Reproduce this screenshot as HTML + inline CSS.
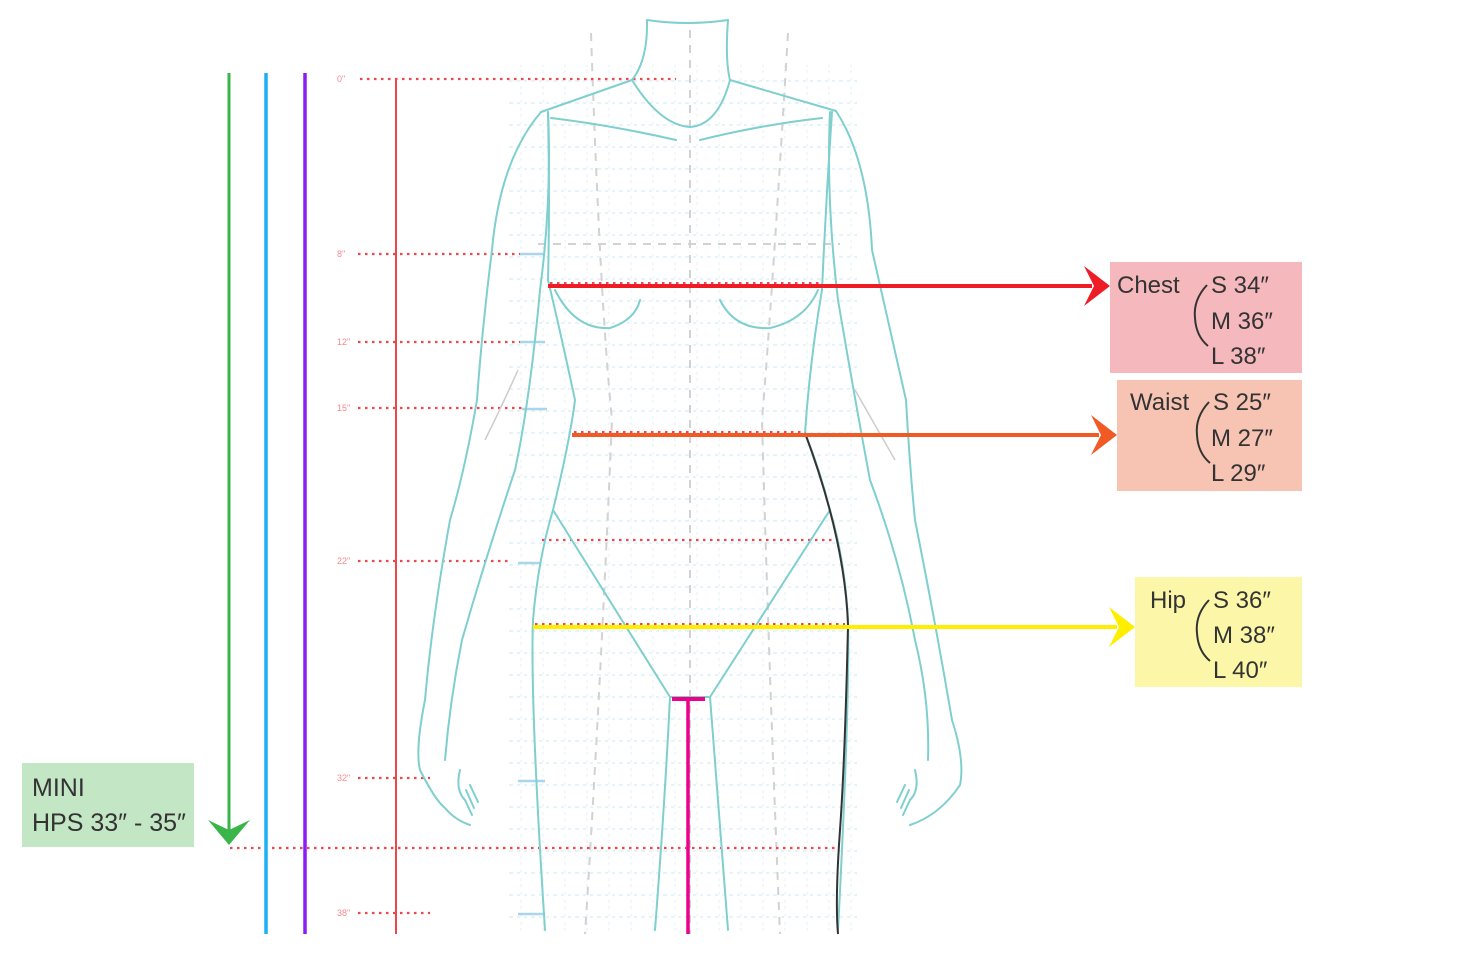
<!DOCTYPE html>
<html><head><meta charset="utf-8"><style>
html,body{margin:0;padding:0;background:#fff;width:1480px;height:964px;overflow:hidden}
svg{display:block}
text{font-family:"Liberation Sans",sans-serif}
</style></head><body>
<svg width="1480" height="964" viewBox="0 0 1480 964" xmlns="http://www.w3.org/2000/svg">
<defs>
<pattern id="g" x="510" y="70" width="22" height="22" patternUnits="userSpaceOnUse">
<line x1="0" y1="11" x2="22" y2="11" stroke="#d6ecf5" stroke-width="1.2" stroke-dasharray="3 4"/>
<line x1="11" y1="0" x2="11" y2="22" stroke="#e2f0f6" stroke-width="1" stroke-dasharray="3 5"/>
</pattern>
</defs>
<rect x="505" y="65" width="355" height="870" fill="url(#g)"/>
<g stroke="#d2d2d2" stroke-width="2" stroke-dasharray="8 7" fill="none">
<line x1="690" y1="30" x2="690" y2="934"/>
<path d="M591 33 Q600 300 612 420 Q600 700 585 934"/>
<path d="M788 33 Q772 300 762 420 Q770 700 780 934"/>
<line x1="538" y1="244" x2="840" y2="244"/>
</g>
<g stroke="#f0454b" stroke-width="2.2" stroke-dasharray="2.5 4.5" fill="none">
<line x1="360" y1="79" x2="676" y2="79"/>
<line x1="358" y1="254" x2="520" y2="254"/>
<line x1="358" y1="342" x2="520" y2="342"/>
<line x1="358" y1="408" x2="522" y2="408"/>
<line x1="358" y1="561" x2="510" y2="561"/>
<line x1="358" y1="778" x2="430" y2="778"/>
<line x1="358" y1="913" x2="430" y2="913"/>
<line x1="230" y1="848" x2="836" y2="848"/>
<line x1="542" y1="540" x2="832" y2="540"/>
</g>
<g fill="#f28a8e" font-size="9"><text x="337" y="82">0"</text><text x="337" y="257">8"</text><text x="337" y="345">12"</text><text x="337" y="411">15"</text><text x="337" y="564">22"</text><text x="337" y="781">32"</text><text x="337" y="916">38"</text></g>
<g stroke="#a9d6ea" stroke-width="2.5"><line x1="520" y1="254" x2="545" y2="254"/><line x1="520" y1="342" x2="545" y2="342"/><line x1="522" y1="409" x2="547" y2="409"/><line x1="518" y1="563" x2="540" y2="563"/><line x1="518" y1="781" x2="545" y2="781"/><line x1="518" y1="914" x2="545" y2="914"/></g>
<line x1="396" y1="78" x2="396" y2="934" stroke="#f0454b" stroke-width="2"/>
<g stroke="#7fcfcf" stroke-width="2" fill="none" stroke-linejoin="round" stroke-linecap="round">
<path d="M647 20 Q687 26 728 20"/>
<path d="M647 20 Q648 60 632 80 Q660 125 690 127 Q718 125 730 80 Q725 60 728 20"/>
<path d="M632 80 L541 112"/><path d="M730 80 L836 111"/>
<path d="M551 118 Q610 125 676 140"/><path d="M822 118 Q760 125 700 140"/>
<path d="M541 112 Q500 160 492 250 Q482 330 477 400 Q465 470 450 520 Q432 620 425 700 Q415 750 420 770 Q435 800 445 808 Q455 820 470 825"/>
<path d="M548 112 Q552 200 540 290 Q530 400 515 470 Q485 560 462 640 Q450 700 445 760"/>
<path d="M836 111 Q868 160 872 250 Q890 330 906 400 Q910 470 915 520 Q935 620 952 720 Q965 760 960 785 Q940 815 910 825"/>
<path d="M830 112 Q826 200 838 300 Q855 400 870 480 Q900 560 915 640 Q930 700 928 760"/>
<path d="M548 112 Q550 200 548 280 Q560 330 575 400 Q570 440 553 510 Q538 560 533 620 Q530 700 545 930"/>
<path d="M832 112 Q826 200 822 290 Q810 360 805 433 Q820 470 830 510 Q845 560 848 620 Q850 700 838 930"/>
<path d="M553 510 L670 697 L710 697 L830 510"/>
<path d="M670 697 Q665 800 655 930"/><path d="M710 697 Q718 800 728 930"/>
<path d="M555 290 Q575 330 610 328 Q635 320 640 300"/>
<path d="M720 300 Q735 330 770 328 Q805 320 818 290"/>
<path d="M460 770 Q455 790 465 800 L472 815 M466 790 L474 808 M470 785 L478 802"/>
<path d="M915 770 Q920 790 910 800 L903 815 M909 790 L901 808 M905 785 L897 802"/>
</g>
<path d="M518 370 Q500 410 485 440" stroke="#ccc" stroke-width="1.5" fill="none"/>
<path d="M855 390 Q875 425 895 460" stroke="#ccc" stroke-width="1.5" fill="none"/>
<path d="M805 433 Q845 540 848 625 Q845 760 840 830 Q835 900 838 934" stroke="#333" stroke-width="2" fill="none"/>
<line x1="548" y1="286" x2="1092" y2="286" stroke="#ee1c25" stroke-width="4"/>
<path d="M1084 266 L1110 286 L1084 306 L1094 286 Z" fill="#ee1c25"/>
<line x1="572" y1="435" x2="1099" y2="435" stroke="#f15a24" stroke-width="4"/>
<path d="M1091 415 L1117 435 L1091 455 L1101 435 Z" fill="#f15a24"/>
<line x1="533" y1="627" x2="1117" y2="627" stroke="#ffee00" stroke-width="4"/>
<path d="M1109 607 L1135 627 L1109 647 L1119 627 Z" fill="#ffee00"/>
<g stroke="#f0454b" stroke-width="2" stroke-dasharray="2.5 4.5"><line x1="550" y1="283" x2="820" y2="283"/><line x1="574" y1="432" x2="805" y2="432"/><line x1="535" y1="624" x2="845" y2="624"/></g>
<line x1="688" y1="698" x2="688" y2="934" stroke="#ec008c" stroke-width="3.5"/>
<line x1="672" y1="699" x2="705" y2="699" stroke="#ec008c" stroke-width="4"/>
<line x1="229" y1="73" x2="229" y2="832" stroke="#39b54a" stroke-width="3"/>
<path d="M208 820 L229 845 L250 820 L229 830 Z" fill="#39b54a"/>
<line x1="266" y1="73" x2="266" y2="934" stroke="#1cb0f6" stroke-width="3.5"/>
<line x1="305" y1="73" x2="305" y2="934" stroke="#8b1cf6" stroke-width="3.5"/>
<rect x="22" y="763" width="172" height="84" fill="#c3e6c4"/>
<text x="32" y="796" font-size="25" fill="#333">MINI</text>
<text x="32" y="831" font-size="25" fill="#333">HPS 33″ - 35″</text>
<rect x="1110" y="262" width="192" height="111" fill="#f5b8bd"/>
<rect x="1117" y="380" width="185" height="111" fill="#f7c4b4"/>
<rect x="1135" y="577" width="167" height="110" fill="#fcf7a8"/>
<g font-size="24" fill="#333">
<text x="1117" y="293">Chest</text><text x="1211" y="293">S 34″</text><text x="1211" y="329">M 36″</text><text x="1211" y="364">L 38″</text>
<text x="1130" y="410">Waist</text><text x="1213" y="410">S 25″</text><text x="1211" y="446">M 27″</text><text x="1211" y="481">L 29″</text>
<text x="1150" y="608">Hip</text><text x="1213" y="608">S 36″</text><text x="1213" y="643">M 38″</text><text x="1213" y="678">L 40″</text>
</g>
<g stroke="#333" stroke-width="2" fill="none">
<path d="M1207 285 Q1193 300 1195 318 Q1196 336 1208 346"/>
<path d="M1209 402 Q1195 417 1197 435 Q1198 453 1210 463"/>
<path d="M1209 600 Q1195 615 1197 633 Q1198 651 1210 661"/>
</g>
</svg>
</body></html>
